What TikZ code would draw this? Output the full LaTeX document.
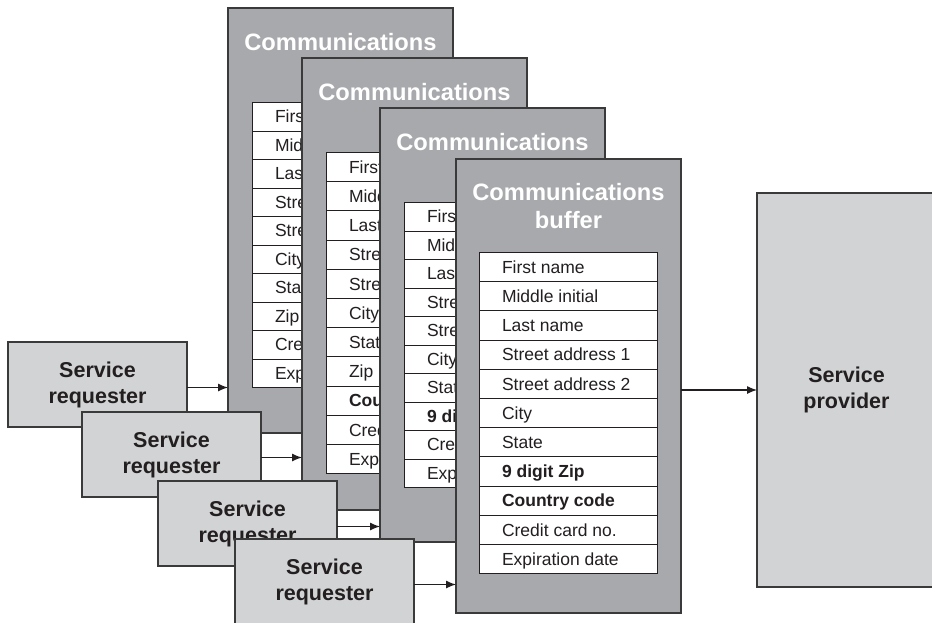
\documentclass[tikz,border=0pt]{standalone}
\usepackage{fontspec}
\setmainfont{Liberation Sans}
\usepackage{xcolor}
\usepackage{array}
\usepackage{tikz}
\usetikzlibrary{arrows.meta, positioning, calc}

\definecolor{bufGray}{HTML}{A7A9AC}
\definecolor{reqGray}{HTML}{D1D3D4}
\definecolor{inkGray}{HTML}{231F20}
\definecolor{lineGray}{HTML}{3A3A3A}

\setlength{\arrayrulewidth}{1pt}
\newcolumntype{F}[1]{|@{\hspace{22pt}}>{\rule[-8pt]{0pt}{#1}}p{155pt}@{}|}

\tikzset{
  buffer/.style={
    rectangle, draw=lineGray, line width=1.3pt,
    fill=bufGray,
    minimum width=225pt, minimum height=#1,
    inner sep=0pt, outer sep=0pt
  },
  buffer/.default=425pt,
  bufTitle/.style={
    text=white, align=center,
    font=\bfseries\fontsize{23.7}{28}\selectfont,
    inner sep=0pt
  },
  fieldList/.style={
    fill=white, inner sep=0pt, outer sep=0pt,
    text=inkGray,
    font=\fontsize{17.5}{21}\selectfont
  },
  party/.style={
    rectangle, draw=lineGray, line width=1.2pt,
    fill=reqGray, text=inkGray,
    minimum width=179pt, minimum height=#1,
    align=center,
    font=\bfseries\fontsize{21.5}{26}\selectfont,
    inner sep=0pt, outer sep=0pt
  },
  party/.default=85pt,
  arrow/.style={
    -{Latex[length=10pt, width=8pt]},
    line width=1.2pt, draw=inkGray
  }
}

\begin{document}
\begin{tikzpicture}[x=1pt, y=-1pt]

\useasboundingbox (0,0) rectangle (932,622);

%------------------------------------------------------
% BUFFERS (back to front)
%------------------------------------------------------

% 1. First buffer
\node[buffer=425pt, anchor=north west] (buf1) at (228,8) {};
\node[bufTitle, below=25pt of buf1.north] (title1) {Communications};
\node[fieldList, below right=94pt and 24pt of buf1.north west] (list1) {%
  \begin{tabular}{F{27.5pt}}\hline
  First name\\\hline
  Middle initial\\\hline
  Last name\\\hline
  Street address 1\\\hline
  Street address 2\\\hline
  City\\\hline
  State\\\hline
  Zip\\\hline
  Credit card no.\\\hline
  Expiration date\\\hline
  \end{tabular}};

% 2. Second buffer
\node[buffer=452pt, below right=50pt and 74pt of buf1.north west] (buf2) {};
\node[bufTitle, below=25pt of buf2.north] (title2) {Communications};
\node[fieldList, below right=94pt and 24pt of buf2.north west] (list2) {%
  \begin{tabular}{F{28.2pt}}\hline
  First name\\\hline
  Middle initial\\\hline
  Last name\\\hline
  Street address 1\\\hline
  Street address 2\\\hline
  City\\\hline
  State\\\hline
  Zip\\\hline
  \textbf{Country code}\\\hline
  Credit card no.\\\hline
  Expiration date\\\hline
  \end{tabular}};

% 3. Third buffer
\node[buffer=434pt, below right=50pt and 78pt of buf2.north west] (buf3) {};
\node[bufTitle, below=25pt of buf3.north] (title3) {Communications};
\node[fieldList, below right=94pt and 24pt of buf3.north west] (list3) {%
  \begin{tabular}{F{27.5pt}}\hline
  First name\\\hline
  Middle initial\\\hline
  Last name\\\hline
  Street address 1\\\hline
  Street address 2\\\hline
  City\\\hline
  State\\\hline
  \textbf{9 digit Zip}\\\hline
  Credit card no.\\\hline
  Expiration date\\\hline
  \end{tabular}};

% 4. Front buffer
\node[buffer=454pt, below right=51pt and 76pt of buf3.north west] (buf4) {};
\node[bufTitle, below=24pt of buf4.north] (title4) {Communications\\buffer};
\node[fieldList, below right=93pt and 23pt of buf4.north west] (list4) {%
  \begin{tabular}{F{28.2pt}}\hline
  First name\\\hline
  Middle initial\\\hline
  Last name\\\hline
  Street address 1\\\hline
  Street address 2\\\hline
  City\\\hline
  State\\\hline
  \textbf{9 digit Zip}\\\hline
  \textbf{Country code}\\\hline
  Credit card no.\\\hline
  Expiration date\\\hline
  \end{tabular}};

%------------------------------------------------------
% REQUESTERS AND PROVIDER
%------------------------------------------------------

\node[party, anchor=north west] (req1) at (8,342) {Service\\requester};
\node[party, below right=70pt and 74pt of req1.north west] (req2) {Service\\requester};
\node[party, below right=69pt and 76pt of req2.north west] (req3) {Service\\requester};
\node[party, below right=58pt and 77pt of req3.north west] (req4) {Service\\requester};

\node[party=394pt, anchor=north west] (prov) at (757,193) {Service\\provider};

%------------------------------------------------------
% EDGES
%------------------------------------------------------

\draw[arrow] ([yshift=-3pt]req1.east) -- ([yshift=-3pt]req1.east -| buf1.west);
\draw[arrow] ([yshift=-3pt]req2.east) -- ([yshift=-3pt]req2.east -| buf2.west);
\draw[arrow] ([yshift=-3pt]req3.east) -- ([yshift=-3pt]req3.east -| buf3.west);
\draw[arrow] ([yshift=-3pt]req4.east) -- ([yshift=-3pt]req4.east -| buf4.west);
\draw[arrow] (buf4.east |- prov.west) -- (prov.west);

\end{tikzpicture}
\end{document}
